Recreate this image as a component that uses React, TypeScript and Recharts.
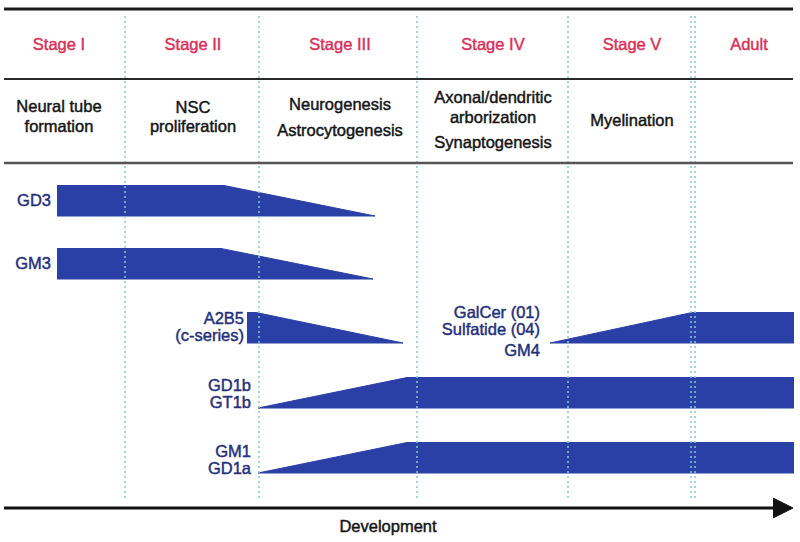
import { ComposedChart, Area, XAxis, YAxis, ReferenceLine, ReferenceDot } from 'recharts';

const FONT = '"Liberation Sans", Arial, Helvetica, sans-serif';
const BAND_COLOR = '#2b40a6';
const LABEL_COLOR = '#25307c';
const STAGE_COLOR = '#d8325a';
const TEXT_COLOR = '#151515';

// stage headers
const STAGES = ['Stage I', 'Stage II', 'Stage III', 'Stage IV', 'Stage V', 'Adult'];
const PROCESSES = [
  ['Neural tube', 'formation'],
  ['NSC', 'proliferation'],
  ['Neurogenesis', 'Astrocytogenesis'],
  ['Axonal/dendritic', 'arborization', 'Synaptogenesis'],
  ['Myelination'],
  [],
];
// position along development (x) of each column centre and the dotted stage boundaries
const STAGE_CENTERS = [59, 193, 340, 493, 632, 749];
const STAGE_BOUNDS = [125, 259, 417, 568, 691, 695];

// ganglioside expression: development position vs relative level (0..1)
const GD3_X = [57, 224, 375];
const GD3_LEVEL = [1, 1, 0];
const GM3_X = [57, 221, 373];
const GM3_LEVEL = [1, 1, 0];
const A2B5_X = [247, 256, 403];
const A2B5_LEVEL = [1, 1, 0];
const GALCER_X = [550, 692, 794];
const GALCER_LEVEL = [0, 1, 1];
const GD1B_X = [258, 407, 794];
const GD1B_LEVEL = [0, 1, 1];
const GM1_X = [258, 407, 794];
const GM1_LEVEL = [0, 1, 1];

const BAND_LABELS = [
  ['GD3'],
  ['GM3'],
  ['A2B5', '(c-series)'],
  ['GalCer (01)', 'Sulfatide (04)', 'GM4'],
  ['GD1b', 'GT1b'],
  ['GM1', 'GD1a'],
];

// layout (y runs top -> bottom in page units)
const BAND_H = 30.5;
const ROW_BOTTOM = [216, 279, 343, 343, 408, 473];
const BAND_LABEL_X = [51, 51, 244, 540, 251, 251];
const BAND_LABEL_Y = [[206], [269], [324, 341], [318, 335, 356], [391, 408], [457, 474]];
const PROCESS_Y = [[112, 132], [113, 132], [110, 136], [103, 123, 148], [126], []];
const STAGE_Y = 50;

const bands = [
  { x: GD3_X, level: GD3_LEVEL },
  { x: GM3_X, level: GM3_LEVEL },
  { x: A2B5_X, level: A2B5_LEVEL },
  { x: GALCER_X, level: GALCER_LEVEL },
  { x: GD1B_X, level: GD1B_LEVEL },
  { x: GM1_X, level: GM1_LEVEL },
];

const bandData = (i: number) =>
  bands[i].x.map((x, j) => ({
    x,
    range: [ROW_BOTTOM[i] - bands[i].level[j] * BAND_H, ROW_BOTTOM[i]],
  }));

const arrowHead = [
  { x: 773, range: [498, 518] },
  { x: 793, range: [508, 508] },
];

// text placed through the chart scales
const textAt = (
  key: string,
  x: number,
  y: number,
  value: string,
  fill: string,
  anchor: 'start' | 'middle' | 'end' = 'middle',
  size = 16.5,
) => (
  <ReferenceDot
    key={key}
    x={x}
    y={y}
    r={0}
    fill="none"
    stroke="none"
    ifOverflow="visible"
    label={(p: any) => {
      const vb = p.viewBox || {};
      const tx = (vb.x ?? 0) + (vb.width ?? 0) / 2;
      const ty = (vb.y ?? 0) + (vb.height ?? 0) / 2;
      return (
        <text
          x={tx}
          y={ty}
          textAnchor={anchor}
          fill={fill}
          stroke={fill}
          strokeWidth={0.45}
          fontSize={size}
          fontFamily={FONT}
        >
          {value}
        </text>
      );
    }}
  />
);

const hLine = (key: string, y: number, stroke: string, w: number) => (
  <ReferenceLine
    key={key}
    segment={[{ x: 4, y }, { x: 793, y }]}
    stroke={stroke}
    strokeWidth={w}
    ifOverflow="visible"
  />
);

export default function App() {
  return (
    <div style={{ position: 'absolute', left: 0, top: 0, width: 800, height: 542, background: '#fff' }}>
      <ComposedChart width={800} height={542} margin={{ top: 0, right: 0, bottom: 0, left: 0 }}>
        <XAxis type="number" dataKey="x" domain={[0, 800]} hide allowDataOverflow />
        <YAxis type="number" domain={[0, 542]} reversed hide allowDataOverflow />

        {STAGE_BOUNDS.map((b) => (
          <ReferenceLine
            key={`b${b}`}
            segment={[{ x: b, y: 16 }, { x: b, y: 501 }]}
            stroke="#86c8cc"
            strokeWidth={1.5}
            strokeDasharray="2 3"
            ifOverflow="visible"
          />
        ))}

        {hLine('top', 9, '#1a1a1a', 3)}
        {hLine('mid', 79, '#2a2a2a', 2)}
        {hLine('low', 163, '#555', 2.5)}

        {bands.map((_, i) => (
          <Area
            key={`band${i}`}
            data={bandData(i)}
            dataKey="range"
            type="linear"
            stroke={BAND_COLOR}
            strokeWidth={1}
            fill={BAND_COLOR}
            fillOpacity={1}
            dot={false}
            activeDot={false}
            isAnimationActive={false}
          />
        ))}

        <ReferenceLine
          segment={[{ x: 4, y: 508 }, { x: 776, y: 508 }]}
          stroke="#111"
          strokeWidth={3}
          ifOverflow="visible"
        />
        <Area
          data={arrowHead}
          dataKey="range"
          type="linear"
          stroke="#111"
          fill="#111"
          fillOpacity={1}
          dot={false}
          activeDot={false}
          isAnimationActive={false}
        />

        {STAGES.map((s, i) => textAt(`s${i}`, STAGE_CENTERS[i], STAGE_Y, s, STAGE_COLOR))}
        {PROCESSES.flatMap((lines, i) =>
          lines.map((t, j) => textAt(`p${i}-${j}`, STAGE_CENTERS[i], PROCESS_Y[i][j], t, TEXT_COLOR)),
        )}
        {BAND_LABELS.flatMap((lines, i) =>
          lines.map((t, j) => textAt(`l${i}-${j}`, BAND_LABEL_X[i], BAND_LABEL_Y[i][j], t, LABEL_COLOR, 'end')),
        )}
        {textAt('dev', 388, 532, 'Development', TEXT_COLOR)}
      </ComposedChart>
    </div>
  );
}
